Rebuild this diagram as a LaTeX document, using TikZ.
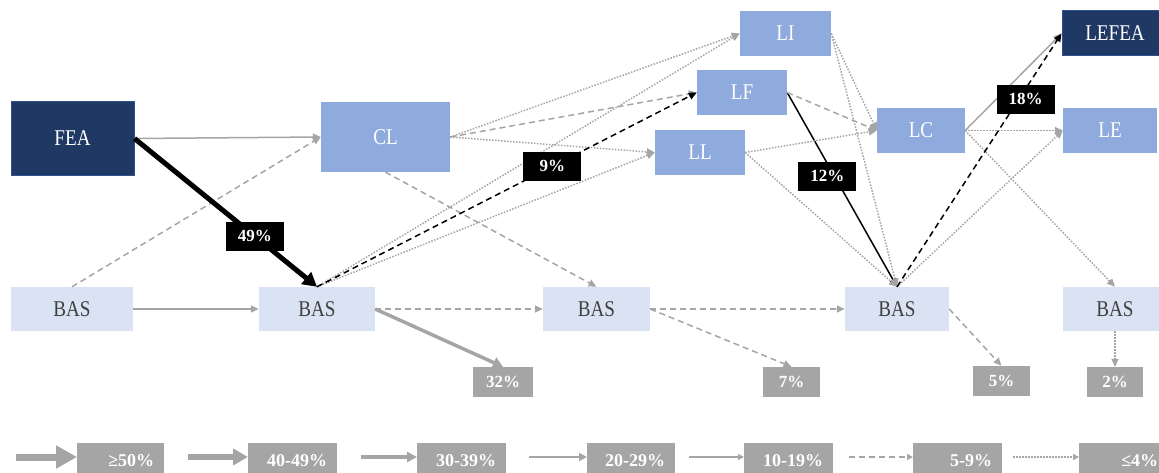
\documentclass[tikz,border=0pt]{standalone}
\usepackage{fontspec}
\setmainfont{Liberation Serif}[FakeStretch=0.85]
\newfontfamily\lblfont{Liberation Serif}
\usetikzlibrary{arrows.meta,calc}

\definecolor{navy}{HTML}{203864}
\definecolor{navyedge}{HTML}{2F528F}
\definecolor{midblue}{HTML}{8FAADC}
\definecolor{lightblue}{HTML}{DAE3F3}
\definecolor{boxgray}{HTML}{A5A5A5}
\definecolor{linegray}{HTML}{A5A5A5}
\definecolor{textgray}{HTML}{404040}

\tikzset{
  box/.style={rectangle, inner sep=0pt, font=\fontsize{22.5}{24}\selectfont},
  navybox/.style={box, fill=navy, draw=navyedge, line width=1pt, text=white},
  midbox/.style={box, fill=midblue, text=white},
  lightbox/.style={box, fill=lightblue, text=textgray},
  pctbox/.style={rectangle, inner sep=0pt, fill=boxgray, text=white,
    font=\lblfont\bfseries\fontsize{17}{18}\selectfont, minimum height=30pt},
  tag/.style={rectangle, inner sep=0pt, fill=black, text=white,
    font=\lblfont\bfseries\fontsize{17}{18}\selectfont,
    minimum width=58pt, minimum height=29pt},
  legbox/.style={rectangle, anchor=north west, fill=boxgray, text=white,
    font=\lblfont\bfseries\fontsize{18}{20}\selectfont,
    text width=#1, align=right, inner xsep=10pt, inner ysep=0pt,
    minimum height=34pt},
  tipthin/.style={-{Triangle[length=8pt,width=7pt]}},
  g10/.style={draw=linegray, line width=1.5pt, tipthin},
  g5/.style={g10, dash pattern=on 6pt off 4pt},
  g4/.style={g10, dash pattern=on 1.5pt off 1.5pt},
  g30/.style={draw=linegray, line width=3.5pt, -{Triangle[length=10pt,width=11pt]}},
  k10/.style={draw=black, line width=1.5pt, tipthin},
  k5/.style={k10, dash pattern=on 6pt off 4pt},
  k40/.style={draw=black, line width=5pt, -{Triangle[length=14pt,width=15pt]}},
  L1/.style={draw=linegray, line width=7pt, -{Triangle[length=21pt,width=22pt]}},
  L2/.style={draw=linegray, line width=5.5pt, -{Triangle[length=15pt,width=16pt]}},
  L3/.style={draw=linegray, line width=3.5pt, -{Triangle[length=10pt,width=10pt]}},
  L4/.style={draw=linegray, line width=2.5pt, -{Triangle[length=8pt,width=8pt]}},
  L5/.style={draw=linegray, line width=1.5pt, -{Triangle[length=6pt,width=6pt]}},
  L6/.style={L5, dash pattern=on 6pt off 4pt},
  L7/.style={L5, dash pattern=on 1.5pt off 1.5pt},
}

\begin{document}
\begin{tikzpicture}[x=1pt, y=-1pt]
\useasboundingbox (0,0) rectangle (1159,473);
\clip (0,0) rectangle (1159,473);

% states
\node[navybox, minimum width=123pt, minimum height=74pt] (FEA) at (72.5,138.5) {FEA};
\node[midbox, minimum width=129pt, minimum height=70pt] (CL) at (385.5,137) {CL};
\node[midbox, minimum width=91pt, minimum height=45pt] (LI) at (785.5,33.5) {LI};
\node[midbox, minimum width=90pt, minimum height=45pt] (LF) at (742,92.5) {LF};
\node[midbox, minimum width=90pt, minimum height=45pt] (LL) at (700,152.5) {LL};
\node[midbox, minimum width=88pt, minimum height=45pt] (LC) at (921,130.5) {LC};
\node[navybox, minimum width=106pt, minimum height=45pt] (LEFEA) at (1115,33.5) {LEFEA};
\node[midbox, minimum width=94pt, minimum height=45pt] (LE) at (1110,130.5) {LE};

\node[lightbox, minimum width=122pt, minimum height=44pt] (BAS1) at (72,309) {BAS};
\node[lightbox, minimum width=116pt, minimum height=44pt] (BAS2) at (317,309) {BAS};
\node[lightbox, minimum width=107pt, minimum height=44pt] (BAS3) at (596.5,309) {BAS};
\node[lightbox, minimum width=104pt, minimum height=44pt] (BAS4) at (897,309) {BAS};
\node[lightbox, minimum width=104pt, minimum height=44pt] (BAS5) at (1115,309) {BAS};

% exit shares
\node[pctbox, minimum width=60pt] (P32) at (503,382) {32\%};
\node[pctbox, minimum width=57pt] (P7) at (791.5,382) {7\%};
\node[pctbox, minimum width=57pt] (P5) at (1001.5,381) {5\%};
\node[pctbox, minimum width=56pt] (P2) at (1115,382) {2\%};

% highlighted transition drawn beneath the grey ones
\draw[k10] (LF.east) -- (BAS4.north);

% grey transitions
\draw[g10] (FEA.east) -- (CL.west);
\draw[g5] (BAS1.north) -- (CL.west);
\draw[g10] (BAS1.east) -- (BAS2.west);
\draw[g4] (CL.east) -- (LI.west);
\draw[g5] (CL.east) -- (LF.west);
\draw[g4] (CL.east) -- (LL.west);
\draw[g5] (CL.south) -- (BAS3.north);
\draw[g4] (BAS2.north) -- (LI.west);
\draw[g4] (BAS2.north) -- (LL.west);
\draw[g5] (BAS2.east) -- (BAS3.west);
\draw[g30] (BAS2.east) -- (P32.north);
\draw[g4] (LI.east) -- (LC.west);
\draw[g4] (LI.east) -- (BAS4.north);
\draw[g5] (LF.east) -- (LC.west);
\draw[g4] (LL.east) -- (LC.west);
\draw[g4] (LL.east) -- (BAS4.north);
\draw[g10] (LC.east) -- (LEFEA.west);
\draw[g4] (LC.east) -- (LE.west);
\draw[g4] (LC.east) -- (BAS5.north);
\draw[g4] (BAS4.north) -- (LE.west);
\draw[g5] (BAS3.east) -- (BAS4.west);
\draw[g5] (BAS3.east) -- (P7.north);
\draw[g5] (BAS4.east) -- (P5.north);
\draw[g4] (BAS5.south) -- (P2.north);

% highlighted path
\draw[k40] (FEA.east) -- (BAS2.north);
\draw[k5] (BAS2.north) -- (LF.west);
\draw[k5] (BAS4.north) -- (LEFEA.west);

% shares on the highlighted path
\node[tag] (T49) at ($(FEA.east)!0.66!(BAS2.north)$) {49\%};
\node[tag] (T9) at ($(BAS2.north)!0.62!(LF.west)$) {9\%};
\node[tag, xshift=-7pt] (T12) at ($(LF.east)!0.43!(BAS4.north)$) {12\%};
\node[tag, xshift=7pt] (T18) at ($(BAS4.north)!0.74!(LEFEA.west)$) {18\%};

% legend
\node[legbox=67pt] (lg1) at (77,443) {≥50\%};
\node[legbox=69pt] (lg2) at (248,443) {40-49\%};
\node[legbox=69pt] (lg3) at (417,443) {30-39\%};
\node[legbox=68pt] (lg4) at (587,443) {20-29\%};
\node[legbox=69pt] (lg5) at (744,443) {10-19\%};
\node[legbox=69pt] (lg6) at (913,443) {5-9\%};
\node[legbox=69pt] (lg7) at (1079,443) {≤4\%};

\coordinate (la1) at (16,457);
\coordinate (la2) at (188,457);
\coordinate (la3) at (361,457);
\coordinate (la4) at (529,457);
\coordinate (la5) at (689,457);
\coordinate (la6) at (849,457);
\coordinate (la7) at (1013,457);

\draw[L1] (la1) -- (la1 -| lg1.west);
\draw[L2] (la2) -- (la2 -| lg2.west);
\draw[L3] (la3) -- (la3 -| lg3.west);
\draw[L4] (la4) -- (la4 -| lg4.west);
\draw[L5] (la5) -- (la5 -| lg5.west);
\draw[L6] (la6) -- (la6 -| lg6.west);
\draw[L7] (la7) -- (la7 -| lg7.west);
\end{tikzpicture}
\end{document}
